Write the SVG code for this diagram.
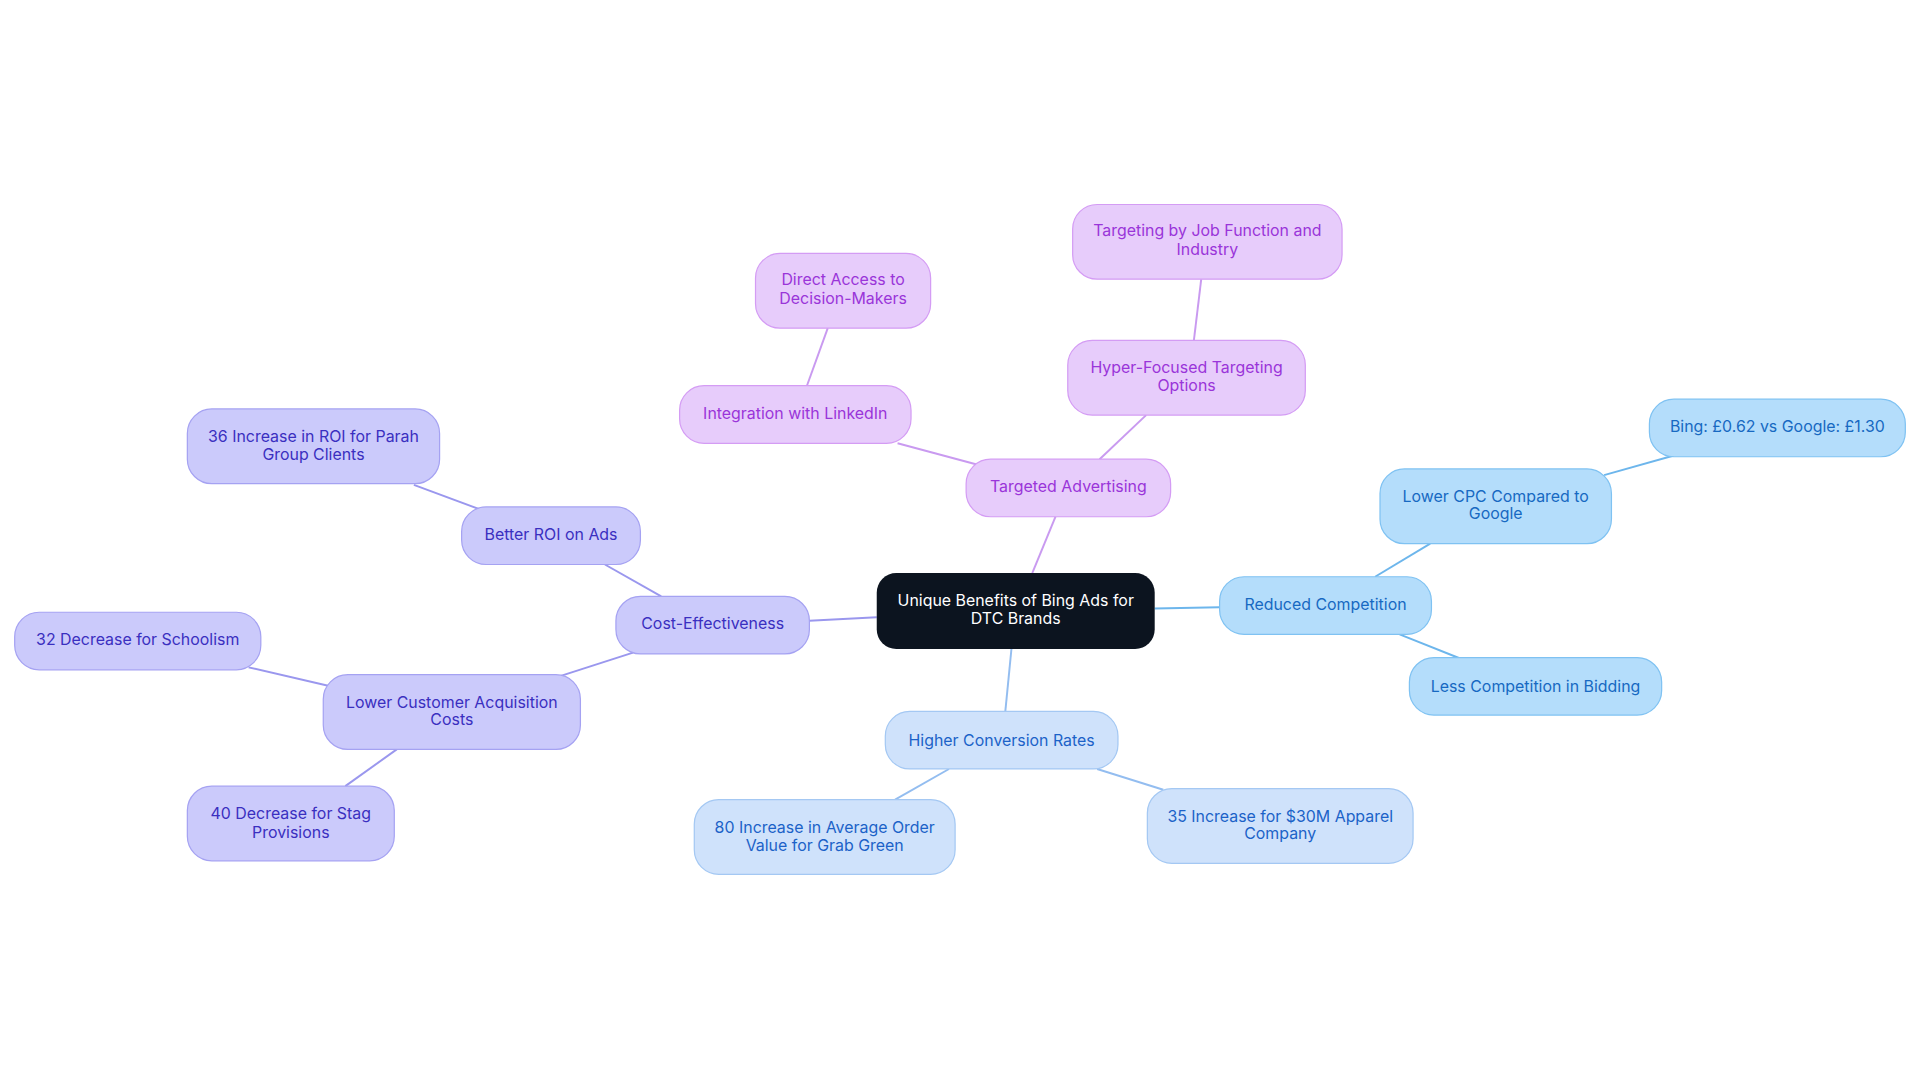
<svg xmlns="http://www.w3.org/2000/svg" width="1920" height="1083" viewBox="0 0 1920 1083">
<style>
text{font-family:Inter,"Noto Sans",sans-serif;font-size:13px;text-anchor:middle}
.p rect{fill:#e7ccfb;stroke:#d49cf4}.p text{fill:#9a35d9}
.v rect{fill:#cbcafb;stroke:#a5a2f2}.v text{fill:#3a2fc0}
.b rect{fill:#b4ddfb;stroke:#7fc2f2}.b text{fill:#1769c2}
.l rect{fill:#cfe2fb;stroke:#a4c8f3}.l text{fill:#1c62c8}
.c line{stroke-width:1.6}
</style>
<rect width="1920" height="1083" fill="#fff"/>
<g transform="scale(1.2245)">
<g id="connectors" class="c">
<line x1="843" y1="468" x2="862" y2="422" stroke="#c99af0"/>
<line x1="800" y1="380" x2="733" y2="362" stroke="#c99af0"/>
<line x1="659" y1="315" x2="676" y2="268" stroke="#c99af0"/>
<line x1="898" y1="375" x2="936" y2="339" stroke="#c99af0"/>
<line x1="975" y1="278" x2="981" y2="228" stroke="#c99af0"/>
<line x1="716" y1="504" x2="661" y2="507" stroke="#9a97ee"/>
<line x1="540" y1="487" x2="494" y2="461" stroke="#9a97ee"/>
<line x1="392" y1="416" x2="338" y2="396" stroke="#9a97ee"/>
<line x1="517" y1="533" x2="458" y2="552" stroke="#9a97ee"/>
<line x1="268" y1="560" x2="203" y2="545" stroke="#9a97ee"/>
<line x1="324" y1="612" x2="282" y2="642" stroke="#9a97ee"/>
<line x1="943" y1="497" x2="996" y2="496" stroke="#6db6ec"/>
<line x1="1123" y1="471" x2="1168" y2="444" stroke="#6db6ec"/>
<line x1="1310" y1="388" x2="1367" y2="372" stroke="#6db6ec"/>
<line x1="1143" y1="518" x2="1193" y2="538" stroke="#6db6ec"/>
<line x1="826" y1="530" x2="821" y2="581" stroke="#93bdf0"/>
<line x1="775" y1="628" x2="731" y2="653" stroke="#93bdf0"/>
<line x1="896" y1="628" x2="950" y2="645" stroke="#93bdf0"/>
</g>
<g id="center"><rect x="716" y="468" width="227" height="62" rx="16" fill="#0c141f"/><text x="829.5" y="495" fill="#fff">Unique Benefits of Bing Ads for</text><text x="829.5" y="510" fill="#fff">DTC Brands</text></g>
<g id="n1" class="p"><rect x="789" y="375" width="167" height="47" rx="20"/><text x="872.5" y="402">Targeted Advertising</text></g>
<g id="n2" class="p"><rect x="555" y="315" width="189" height="47" rx="20"/><text x="649.5" y="342">Integration with LinkedIn</text></g>
<g id="n3" class="p"><rect x="617" y="207" width="143" height="61" rx="20"/><text x="688.5" y="233">Direct Access to</text><text x="688.5" y="248">Decision-Makers</text></g>
<g id="n4" class="p"><rect x="872" y="278" width="194" height="61" rx="20"/><text x="969" y="305">Hyper-Focused Targeting</text><text x="969" y="319">Options</text></g>
<g id="n5" class="p"><rect x="876" y="167" width="220" height="61" rx="20"/><text x="986" y="193">Targeting by Job Function and</text><text x="986" y="208">Industry</text></g>
<g id="n6" class="v"><rect x="503" y="487" width="158" height="47" rx="20"/><text x="582" y="514">Cost-Effectiveness</text></g>
<g id="n7" class="v"><rect x="377" y="414" width="146" height="47" rx="20"/><text x="450" y="441">Better ROI on Ads</text></g>
<g id="n8" class="v"><rect x="153" y="334" width="206" height="61" rx="20"/><text x="256" y="361">36 Increase in ROI for Parah</text><text x="256" y="376">Group Clients</text></g>
<g id="n9" class="v"><rect x="264" y="551" width="210" height="61" rx="20"/><text x="369" y="578">Lower Customer Acquisition</text><text x="369" y="592">Costs</text></g>
<g id="n10" class="v"><rect x="12" y="500" width="201" height="47" rx="20"/><text x="112.5" y="527">32 Decrease for Schoolism</text></g>
<g id="n11" class="v"><rect x="153" y="642" width="169" height="61" rx="20"/><text x="237.5" y="669">40 Decrease for Stag</text><text x="237.5" y="684">Provisions</text></g>
<g id="n12" class="b"><rect x="996" y="471" width="173" height="47" rx="20"/><text x="1082.5" y="498">Reduced Competition</text></g>
<g id="n13" class="b"><rect x="1127" y="383" width="189" height="61" rx="20"/><text x="1221.5" y="410">Lower CPC Compared to</text><text x="1221.5" y="424">Google</text></g>
<g id="n14" class="b"><rect x="1347" y="326" width="209" height="47" rx="20"/><text x="1451.5" y="353">Bing: £0.62 vs Google: £1.30</text></g>
<g id="n15" class="b"><rect x="1151" y="537" width="206" height="47" rx="20"/><text x="1254" y="565">Less Competition in Bidding</text></g>
<g id="n16" class="l"><rect x="723" y="581" width="190" height="47" rx="20"/><text x="818" y="609">Higher Conversion Rates</text></g>
<g id="n17" class="l"><rect x="567" y="653" width="213" height="61" rx="20"/><text x="673.5" y="680">80 Increase in Average Order</text><text x="673.5" y="695">Value for Grab Green</text></g>
<g id="n18" class="l"><rect x="937" y="644" width="217" height="61" rx="20"/><text x="1045.5" y="671">35 Increase for $30M Apparel</text><text x="1045.5" y="685">Company</text></g>
</g>
</svg>
